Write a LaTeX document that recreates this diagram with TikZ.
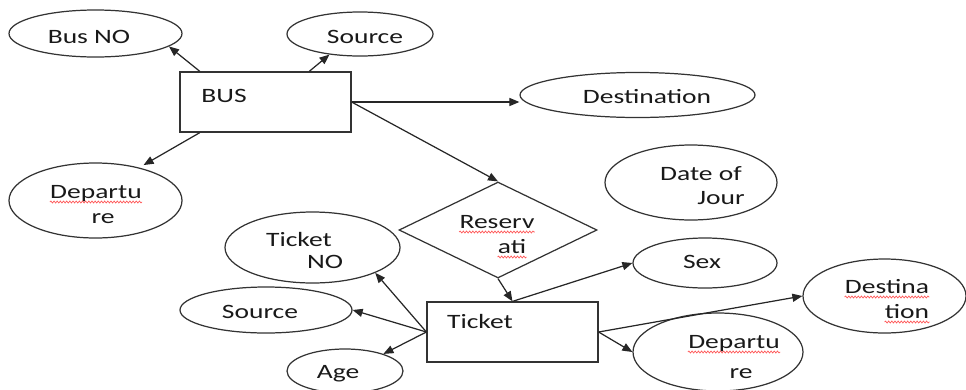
\documentclass[tikz,border=0pt]{standalone}
\usepackage{fontspec}
\setmainfont{Carlito}[FakeStretch=1.35]
\usepackage{tikz}
\usetikzlibrary{arrows.meta,shapes.geometric,calc,decorations.pathmorphing}
\newdimen\pxu
\pxu=0.02cm

\begin{document}
\begin{tikzpicture}[x=0.02cm, y=-0.02cm,
    attr/.style={ellipse, draw=black!80, line width=0.7pt, inner sep=0pt},
    ent/.style={rectangle, draw=black!80, line width=0.7pt, inner sep=0pt, minimum width=171\pxu, minimum height=60\pxu},
    rel/.style={diamond, draw=black!80, line width=0.7pt, inner sep=0pt},
    lbl/.style={anchor=base, inner sep=0pt, font=\fontsize{11.6}{13.6}\selectfont, text=black!90},
    arrow/.style={-{Triangle[length=5.7pt, width=4.6pt]}, line width=0.7pt, black!85},
    squig/.style={red!65, line width=0.4pt, decorate, decoration={snake, amplitude=0.55pt, segment length=1.8pt}},
]
\useasboundingbox (0,0) rectangle (966,389);
\clip (0,0) rectangle (966,389);

% Bus entity and its attributes
\node[ent] (bus) at (265.5,102) {};
\node[attr, minimum width=173\pxu, minimum height=47\pxu] (busno) at (95.5,33.5) {};
\node[attr, minimum width=146\pxu, minimum height=44\pxu] (srcbus) at (360,34) {};
\node[attr, minimum width=235\pxu, minimum height=45\pxu] (dest) at (637.5,95) {};
\node[attr, minimum width=173\pxu, minimum height=75\pxu] (dep1) at (95.5,200.5) {};
\node[attr, minimum width=172\pxu, minimum height=75\pxu] (doj) at (691,182.5) {};

% Relationship
\node[rel, minimum width=198\pxu, minimum height=96\pxu] (resv) at (498,230) {};

% Ticket entity and its attributes
\node[ent] (ticket) at (512.5,332) {};
\node[attr, minimum width=175\pxu, minimum height=71\pxu] (tno) at (312.5,247.5) {};
\node[attr, minimum width=172\pxu, minimum height=46\pxu] (src2) at (266,310) {};
\node[attr, minimum width=116\pxu, minimum height=44\pxu] (age) at (345,371) {};
\node[attr, minimum width=144\pxu, minimum height=50\pxu] (sex) at (705,263) {};
\node[attr, minimum width=163\pxu, minimum height=74\pxu] (dest2) at (884.5,296) {};
\node[attr, minimum width=170\pxu, minimum height=78\pxu] (dep2) at (718,352) {};

% Texts
\node[lbl] (busT) at (224,102) {BUS};
\node[lbl] (busnoT) at (89,43) {Bus NO};
\node[lbl] (srcbusT) at (365,43) {Source};
\node[lbl] (destT) at (647,103) {Destination};
\node[lbl] (dep1a) at (96,198) {Departu};
\node[lbl] (dep1b) at (103,223) {re};
\node[lbl] (doja) at (701,180) {Date of};
\node[lbl] (dojb) at (721,204) {Jour};
\node[lbl] (resva) at (497,228) {Reserv};
\node[lbl] (resvb) at (512,253) {ati};
\node[lbl] (ticketT) at (480,328) {Ticket};
\node[lbl] (tnoa) at (299,246) {Ticket};
\node[lbl] (tnob) at (325,268) {NO};
\node[lbl] (src2T) at (260,318) {Source};
\node[lbl] (ageT) at (338,378) {Age};
\node[lbl] (sexT) at (702,268) {Sex};
\node[lbl] (dest2a) at (887,293) {Destina};
\node[lbl] (dest2b) at (907,318) {tion};
\node[lbl] (dep2a) at (734,348) {Departu};
\node[lbl] (dep2b) at (741,378) {re};

% Spelling marks
\foreach \t in {dep1a, resva, resvb, dest2a, dest2b, dep2a}
  \draw[squig] ($(\t.base west)+(0,4)$) -- ($(\t.base east)+(0,4)$);

% Bus arrows
\draw[arrow] (bus.155) -- (busno.-10.6);
\draw[arrow] (bus.35) -- (srcbus.-146);
\draw[arrow] (bus.east) -- (bus.east -| dest.west);
\draw[arrow, shorten >=5\pxu] (bus.-155) -- (dep1.37);
\draw[arrow] (bus.east) -- (resv.north);
\draw[arrow] (resv.south) -- (ticket.north);

% Ticket arrows
\draw[arrow] (ticket.north) -- (sex.west);
\draw[arrow] (ticket.east) -- (dest2.west);
\draw[arrow] (ticket.east) -- (dep2.west);
\draw[arrow] (ticket.west) -- (tno.-22);
\draw[arrow] (ticket.west) -- (src2.east);
\draw[arrow] (ticket.west) -- (age.24);
\end{tikzpicture}
\end{document}
